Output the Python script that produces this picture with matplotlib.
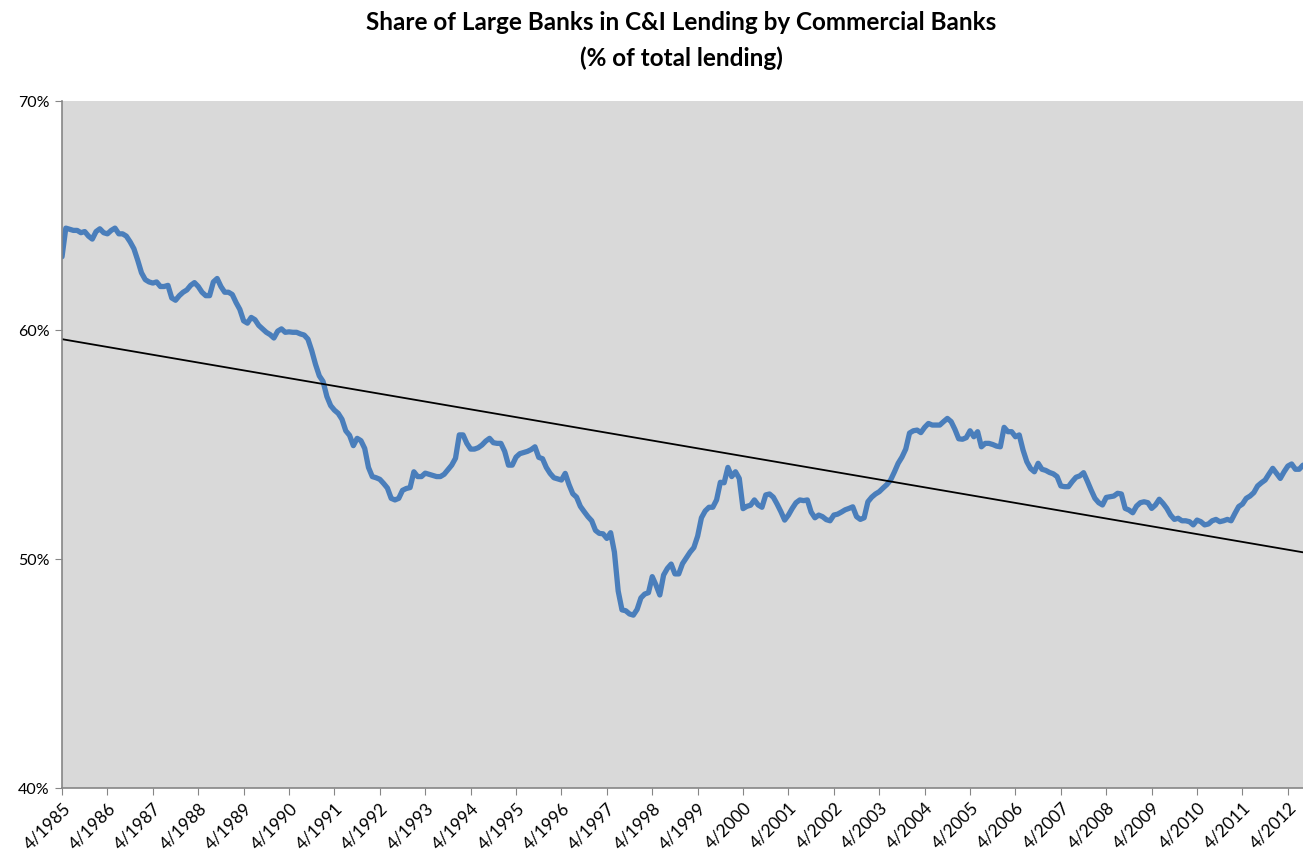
import numpy as np
import matplotlib
matplotlib.use("Agg")
import matplotlib.pyplot as plt
from matplotlib.ticker import FuncFormatter
import matplotlib.transforms as mtransforms

plt.rcParams["font.family"] = ["Lato", "DejaVu Sans"]

# Monthly share of large banks in C&I lending (%), April 1985 - August 2012
share_1985_1990 = [
    63.2, 64.45, 64.4, 64.35, 64.35, 64.25, 64.3, 64.1, 63.97, 64.3, 64.42, 64.25,
    64.2, 64.35, 64.45, 64.2, 64.2, 64.1, 63.85, 63.55, 63.05, 62.5, 62.2, 62.1,
    62.05, 62.1, 61.9, 61.9, 61.95, 61.4, 61.3, 61.5, 61.65, 61.75, 61.95, 62.07,
    61.9, 61.65, 61.5, 61.5, 62.1, 62.25, 61.9, 61.65, 61.65, 61.55, 61.2, 60.9,
    60.4, 60.3, 60.55, 60.45, 60.2, 60.05, 59.9, 59.8, 59.65, 59.95, 60.05, 59.9,
]
share_1990_1995 = [
    59.92, 59.9, 59.9, 59.83, 59.78, 59.6, 59.1, 58.5, 58.0, 57.75, 57.1, 56.7,
    56.5, 56.36, 56.1, 55.6, 55.4, 54.95, 55.27, 55.17, 54.83, 54.0, 53.6, 53.55,
    53.48, 53.3, 53.1, 52.65, 52.58, 52.65, 53.0, 53.08, 53.12, 53.81, 53.6, 53.6,
    53.75, 53.7, 53.65, 53.6, 53.6, 53.7, 53.9, 54.1, 54.4, 55.42, 55.42, 55.05,
    54.8, 54.8, 54.86, 54.98, 55.15, 55.27, 55.08, 55.05, 55.05, 54.7, 54.1, 54.1,
]
share_1995_2000 = [
    54.45, 54.6, 54.65, 54.7, 54.78, 54.9, 54.44, 54.38, 54.0, 53.74, 53.55, 53.5,
    53.45, 53.74, 53.25, 52.85, 52.7, 52.3, 52.07, 51.85, 51.67, 51.25, 51.12, 51.1,
    50.9, 51.15, 50.3, 48.6, 47.78, 47.74, 47.6, 47.55, 47.8, 48.3, 48.47, 48.53,
    49.23, 48.86, 48.43, 49.3, 49.59, 49.78, 49.35, 49.35, 49.8, 50.05, 50.3, 50.5,
    51.0, 51.8, 52.1, 52.26, 52.26, 52.58, 53.35, 53.33, 54.0, 53.6, 53.81, 53.52,
]
share_2000_2005 = [
    52.2, 52.3, 52.35, 52.58, 52.36, 52.26, 52.8, 52.84, 52.7, 52.4, 52.07, 51.7,
    51.92, 52.21, 52.46, 52.58, 52.55, 52.58, 52.05, 51.8, 51.92, 51.85, 51.72, 51.67,
    51.92, 51.96, 52.05, 52.15, 52.21, 52.28, 51.85, 51.73, 51.8, 52.5, 52.7, 52.84,
    52.94, 53.1, 53.25, 53.45, 53.8, 54.18, 54.45, 54.8, 55.5, 55.6, 55.63, 55.52,
    55.75, 55.92, 55.85, 55.85, 55.85, 56.0, 56.14, 56.0, 55.66, 55.25, 55.23, 55.3,
]
share_2005_2010 = [
    55.6, 55.34, 55.56, 54.9, 55.05, 55.05, 55.0, 54.93, 54.9, 55.75, 55.56, 55.56,
    55.34, 55.42, 54.76, 54.25, 53.95, 53.81, 54.18, 53.92, 53.87, 53.78, 53.72, 53.6,
    53.19, 53.16, 53.16, 53.38, 53.57, 53.63, 53.77, 53.4, 53.01, 52.65, 52.46, 52.36,
    52.69, 52.72, 52.75, 52.87, 52.84, 52.21, 52.14, 52.02, 52.31, 52.46, 52.5, 52.46,
    52.21, 52.36, 52.61, 52.43, 52.21, 51.92, 51.73, 51.78, 51.67, 51.67, 51.63, 51.49,
]
share_2010_2012 = [
    51.7, 51.63, 51.49, 51.53, 51.67, 51.73, 51.63, 51.67, 51.73, 51.67, 51.99, 52.29,
    52.4, 52.65, 52.75, 52.9, 53.19, 53.33, 53.45, 53.71, 53.96, 53.74, 53.52, 53.81,
    54.06, 54.15, 53.92, 53.92, 54.1,
]

share = np.array(share_1985_1990 + share_1990_1995 + share_1995_2000
                 + share_2000_2005 + share_2005_2010 + share_2010_2012)
months = np.arange(len(share))

# month labels, one every April
tick_pos = np.arange(0, len(share), 12)
tick_labels = ["4/%d" % (1985 + i) for i in range(len(tick_pos))]

# linear trend over the whole series
slope, intercept = np.polyfit(months, share, 1)
trend = intercept + slope * months

fig = plt.figure(figsize=(13.03, 8.51), dpi=100)
ax = fig.add_axes([0.0476, 0.074, 0.9524, 0.8073])
ax.set_facecolor("#D9D9D9")

ax.plot(months, share, color="#4A7EBB", linewidth=3.8, solid_joinstyle="round",
        solid_capstyle="round")
ax.plot(months, trend, color="black", linewidth=1.3)

ax.set_xlim(0, len(share) - 1)
ax.set_ylim(40, 70)
ax.set_yticks([40, 50, 60, 70])
ax.yaxis.set_major_formatter(FuncFormatter(lambda v, p: "%d%%" % v))

ax.set_xticks(tick_pos)
ax.set_xticklabels(tick_labels, rotation=45, ha="right", va="top",
                   rotation_mode="anchor")
offset = mtransforms.ScaledTranslation(10 / 100, -12 / 100, fig.dpi_scale_trans)
for lbl in ax.get_xticklabels():
    lbl.set_transform(lbl.get_transform() + offset)
    lbl.set_fontsize(12.5)

for side in ["top", "right"]:
    ax.spines[side].set_visible(False)
for side in ["left", "bottom"]:
    ax.spines[side].set_color("#868686")
    ax.spines[side].set_linewidth(1.2)
ax.tick_params(axis="both", direction="out", length=5, color="#868686",
               labelcolor="black")
ax.tick_params(axis="y", pad=4, labelsize=11.5)

fig.text(0.523, 0.987, "Share of Large Banks in C&I Lending by Commercial Banks",
         ha="center", va="top", fontsize=17.5, fontweight="bold")
fig.text(0.523, 0.946, "(% of total lending)",
         ha="center", va="top", fontsize=17.5, fontweight="bold")

fig.savefig("out.png", dpi=100)
